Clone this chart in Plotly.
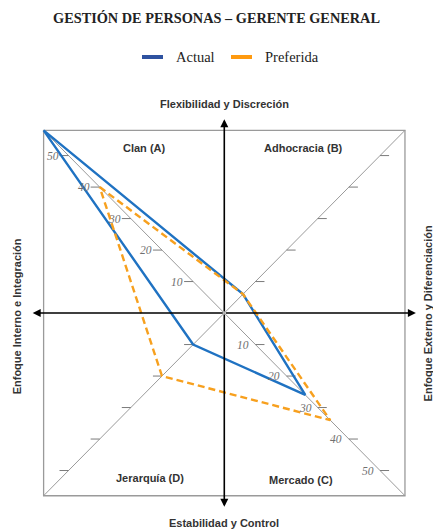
import plotly.graph_objects as go

# Competing Values Framework scores (each profile sums to 100)
quadrants = ["Clan (A)", "Adhocracia (B)", "Mercado (C)", "Jerarquía (D)"]
actual = [58, 6, 26, 10]
preferida = [40, 6, 34, 20]
tick_values = [10, 20, 30, 40, 50]
tick_labels = ["10", "20", "30", "40", "50"]
series_names = ["Actual", "Preferida"]

# direction of each quadrant's diagonal (A upper-left, B upper-right, C lower-right, D lower-left)
dirs = [(-1, 1), (1, 1), (1, -1), (-1, -1)]
EDGE = 58      # half-size of the frame square
TIP = 61.5     # reach of the axis arrows

BLUE = "#1f72c2"
ORANGE = "#f7a01e"
GRAY = "#9a9a9a"
SANS = "Liberation Sans, Arial, sans-serif"
SERIF = "Liberation Serif, Times New Roman, serif"
W, H = 433, 531


def polygon(scores):
    xs = [d[0] * s for d, s in zip(dirs, scores)]
    ys = [d[1] * s for d, s in zip(dirs, scores)]
    return xs + xs[:1], ys + ys[:1]


fig = go.Figure()

# frame and diagonals
fig.add_shape(type="rect", x0=-EDGE, y0=-EDGE, x1=EDGE, y1=EDGE,
              line=dict(color=GRAY, width=1.3), layer="below")
fig.add_shape(type="line", x0=-EDGE, y0=EDGE, x1=EDGE, y1=-EDGE,
              line=dict(color=GRAY, width=1), layer="below")
fig.add_shape(type="line", x0=-EDGE, y0=-EDGE, x1=EDGE, y1=EDGE,
              line=dict(color=GRAY, width=1), layer="below")

# small tick dashes along every diagonal (left side for A/D, right side for B/C)
tx, ty = [], []
for (dx, dy) in dirs:
    for v in tick_values:
        x, y = dx * v, dy * v
        side = -1 if dx < 0 else 1
        tx += [x, x + side * 2.9, None]
        ty += [y, y, None]
fig.add_trace(go.Scatter(x=tx, y=ty, mode="lines", line=dict(color="#7a7a7a", width=1),
                         hoverinfo="skip", showlegend=False))

# numeric labels on the A and C diagonals
for v, lab in zip(tick_values, tick_labels):
    fig.add_annotation(x=-v - 5.1, y=v, text="<i>%s</i>" % lab, showarrow=False,
                       font=dict(family=SERIF, size=11.5, color="#707070"),
                       xanchor="center", yanchor="middle")
    fig.add_annotation(x=v - 4.0, y=-v, text="<i>%s</i>" % lab, showarrow=False,
                       font=dict(family=SERIF, size=11.5, color="#707070"),
                       xanchor="center", yanchor="middle")

# axis arrows from the centre outwards
for (x, y) in [(-TIP, 0), (TIP, 0), (0, TIP), (0, -TIP)]:
    fig.add_annotation(x=x, y=y, ax=0, ay=0, xref="x", yref="y", axref="x", ayref="y",
                       text="", showarrow=True, arrowhead=2, arrowsize=1,
                       arrowwidth=1.6, arrowcolor="black")

# profiles (Preferida drawn on top)
ax_, ay_ = polygon(actual)
px_, py_ = polygon(preferida)
fig.add_trace(go.Scatter(x=ax_, y=ay_, mode="lines", line=dict(color=BLUE, width=2.4),
                         showlegend=False, name=series_names[0]))
fig.add_trace(go.Scatter(x=px_, y=py_, mode="lines",
                         line=dict(color=ORANGE, width=2.4, dash="7px,4px"),
                         showlegend=False, name=series_names[1]))

# legend row: colour swatch + name, placed in pixel-based paper coordinates
legend_items = [(series_names[0], "#2e52a0", 142), (series_names[1], "#ff9a10", 231)]
for name, color, x0 in legend_items:
    fig.add_shape(type="line", xref="paper", yref="paper",
                  x0=x0 / W, x1=(x0 + 21) / W, y0=1 - 57 / H, y1=1 - 57 / H,
                  line=dict(color=color, width=4))
    fig.add_annotation(xref="paper", yref="paper", x=(x0 + 32) / W, y=1 - 57 / H,
                       text=name, showarrow=False, xanchor="left", yanchor="middle",
                       font=dict(family=SERIF, size=14.5, color="#222222"))

# quadrant names
quad_pos = [(-25.5, 52.5), (25.5, 52.5), (24.5, -53), (-24, -52.5)]
for name, (x, y) in zip(quadrants, quad_pos):
    fig.add_annotation(x=x, y=y, text="<b>%s</b>" % name, showarrow=False,
                       font=dict(family=SANS, size=11, color="#333333"))

# axis titles
fig.add_annotation(x=0, y=66.5, text="<b>Flexibilidad y Discreción</b>", showarrow=False,
                   font=dict(family=SANS, size=11, color="#333333"))
fig.add_annotation(x=0, y=-66.5, text="<b>Estabilidad y Control</b>", showarrow=False,
                   font=dict(family=SANS, size=11, color="#333333"))
fig.add_annotation(x=-66.5, y=-1, text="<b>Enfoque Interno e Integración</b>", showarrow=False,
                   textangle=-90, font=dict(family=SANS, size=11, color="#333333"))
fig.add_annotation(x=65.5, y=0, text="<b>Enfoque Externo y Diferenciación</b>", showarrow=False,
                   textangle=-90, font=dict(family=SANS, size=11, color="#333333"))

fig.update_layout(
    width=W, height=H,
    margin=dict(l=0, r=0, t=0, b=0),
    paper_bgcolor="white", plot_bgcolor="white",
    title=dict(text="<b>GESTIÓN DE PERSONAS – GERENTE GENERAL</b>",
               x=0.5, xanchor="center", y=0.966, yanchor="middle",
               font=dict(family=SERIF, size=14.3, color="#222222")),
    xaxis=dict(range=[-72, 67], visible=False, fixedrange=True),
    yaxis=dict(range=[-69.2, 99.4], visible=False, fixedrange=True),
    showlegend=False,
)

fig.write_html("out.html")
